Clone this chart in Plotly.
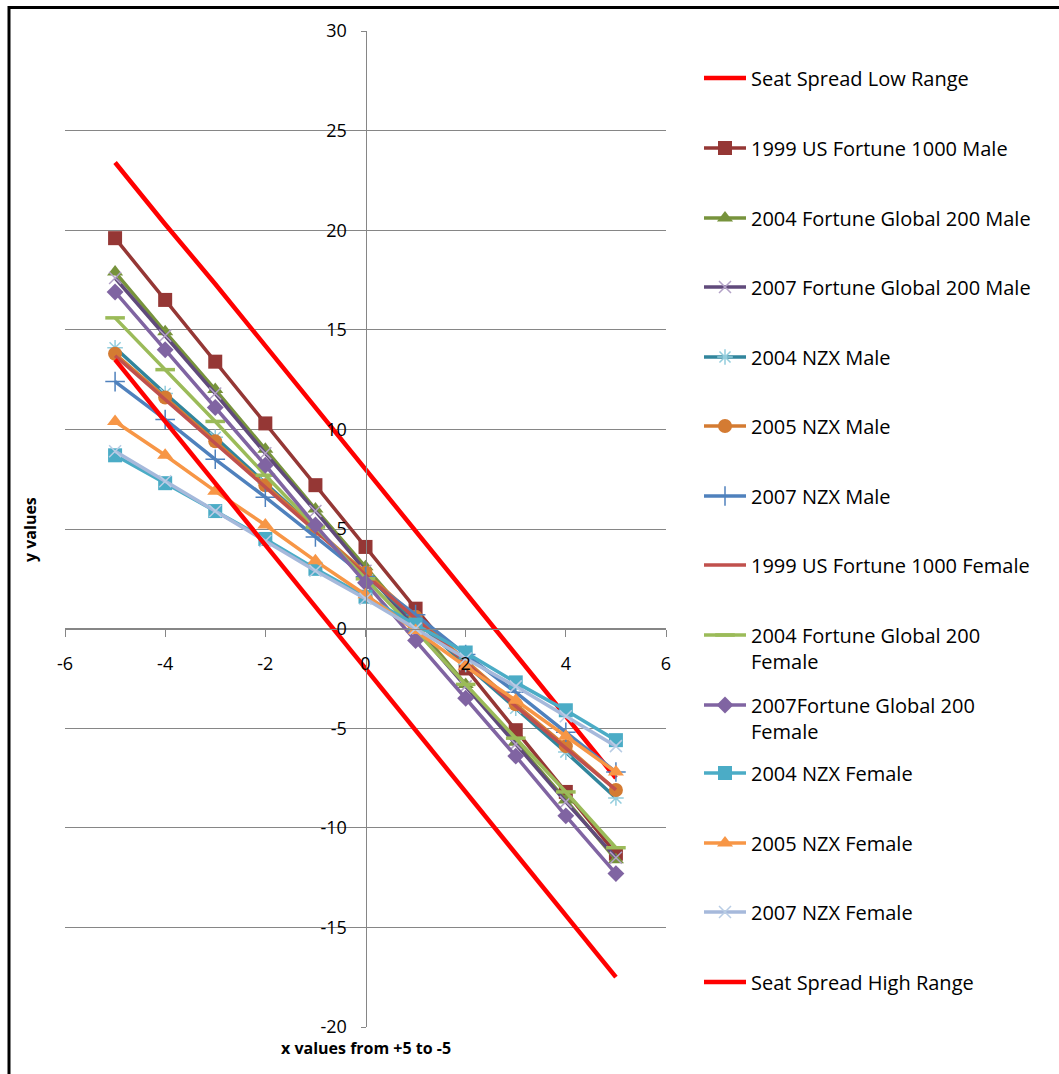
import plotly.graph_objects as go

x_vals = [-5, -4, -3, -2, -1, 0, 1, 2, 3, 4, 5]

seat_low = [23.4, 20.3, 17.3, 14.2, 11.1, 8.0, 4.9, 1.8, -1.3, -4.4, -7.5]
us1999_m = [19.6, 16.5, 13.4, 10.3, 7.2, 4.1, 1.0, -2.0, -5.1, -8.2, -11.3]
fg2004_m = [17.9, 14.9, 12.0, 9.0, 6.0, 3.1, 0.2, -2.8, -5.7, -8.6, -11.6]
fg2007_m = [17.6, 14.7, 11.8, 8.8, 5.9, 2.9, 0.0, -2.9, -5.8, -8.7, -11.5]
nzx2004_m = [14.1, 11.8, 9.6, 7.3, 5.0, 2.7, 0.4, -1.8, -4.0, -6.2, -8.5]
nzx2005_m = [13.8, 11.6, 9.4, 7.2, 5.0, 2.8, 0.6, -1.6, -3.8, -5.9, -8.1]
nzx2007_m = [12.4, 10.5, 8.5, 6.6, 4.6, 2.6, 0.7, -1.3, -3.2, -5.2, -7.2]
us1999_f = [13.7, 11.5, 9.3, 7.1, 4.9, 2.7, 0.5, -1.7, -3.9, -6.0, -8.1]
fg2004_f = [15.6, 13.0, 10.4, 7.7, 5.1, 2.5, -0.1, -2.8, -5.5, -8.2, -11.0]
fg2007_f = [16.9, 14.0, 11.1, 8.2, 5.2, 2.3, -0.6, -3.5, -6.4, -9.4, -12.3]
nzx2004_f = [8.7, 7.3, 5.9, 4.5, 3.0, 1.6, 0.2, -1.2, -2.7, -4.1, -5.6]
nzx2005_f = [10.4, 8.7, 6.9, 5.2, 3.4, 1.7, -0.1, -1.9, -3.6, -5.4, -7.2]
nzx2007_f = [8.9, 7.4, 5.9, 4.4, 2.9, 1.5, 0.0, -1.5, -2.9, -4.4, -5.9]
seat_high = [13.5, 10.4, 7.3, 4.2, 1.1, -2.0, -5.1, -8.2, -11.3, -14.4, -17.5]

x_tick_vals = [-6, -4, -2, 0, 2, 4, 6]
x_tick_text = ["-6", "-4", "-2", "0", "2", "4", "6"]
y_tick_vals = [-20, -15, -10, -5, 0, 5, 10, 15, 20, 25, 30]
y_tick_text = ["-20", "-15", "-10", "-5", "0", "5", "10", "15", "20", "25", "30"]

series_names = [
    "Seat Spread Low Range",
    "1999 US Fortune 1000 Male",
    "2004 Fortune Global 200 Male",
    "2007 Fortune Global 200 Male",
    "2004 NZX Male",
    "2005 NZX Male",
    "2007 NZX Male",
    "1999 US Fortune 1000 Female",
    "2004 Fortune Global 200<br>Female",
    "2007Fortune Global 200<br>Female",
    "2004 NZX Female",
    "2005 NZX Female",
    "2007 NZX Female",
    "Seat Spread High Range",
]
series_values = [seat_low, us1999_m, fg2004_m, fg2007_m, nzx2004_m, nzx2005_m,
                 nzx2007_m, us1999_f, fg2004_f, fg2007_f, nzx2004_f, nzx2005_f,
                 nzx2007_f, seat_high]

# style: (line color, line width, marker symbol, marker color, marker size, marker line width)
styles = [
    ("#FF0000", 4.5, None, None, 0, 0),
    ("#953735", 3.5, "square", "#953735", 14, 0),
    ("#77933C", 3.5, "triangle-up", "#77933C", 14, 0),
    ("#604A7B", 3.5, "x-thin", "#B3A2C7", 12, 1.5),
    ("#31859C", 3.5, "asterisk", "#93CDDD", 13, 1.5),
    ("#D47B32", 3.5, "circle", "#D47B32", 14, 0),
    ("#4F81BD", 3.5, "cross-thin", "#4F81BD", 14, 1.5),
    ("#C0504D", 3.5, None, None, 0, 0),
    ("#9BBB59", 3.5, "line-ew", "#9BBB59", 14, 3.5),
    ("#8064A2", 3.5, "diamond", "#8064A2", 13, 0),
    ("#4BACC6", 3.5, "square", "#4BACC6", 14, 0),
    ("#F79646", 3.5, "triangle-up", "#F79646", 14, 0),
    ("#A6B9DB", 3.5, "x-thin", "#B9CDE5", 12, 1.5),
    ("#FF0000", 4.5, None, None, 0, 0),
]

# legend item centres (px from top of page)
legend_centres = [78, 148, 218, 287, 357, 426, 496, 565, 648, 718, 773, 843, 912, 982]

W, H = 1059, 1074
L, T = 65, 31
PW, PH = 601, 996


def px_x(px):
    return (px - L) / PW


def px_y(py):
    return (T + PH - py) / PH


FONT = "Open Sans"

fig = go.Figure()
layout_legends = {}
for i, (name, vals, st) in enumerate(zip(series_names, series_values, styles)):
    lc, lw, sym, mc, ms, mlw = st
    leg_id = "legend" if i == 0 else f"legend{i + 1}"
    mode = "lines" if sym is None else "lines+markers"
    marker = None
    if sym is not None:
        marker = dict(symbol=sym, size=ms, color=mc,
                      line=dict(color=mc, width=mlw))
    fig.add_trace(go.Scatter(
        x=x_vals, y=vals, name=name, mode=mode,
        line=dict(color=lc, width=lw),
        marker=marker,
        legend=leg_id,
    ))
    layout_legends[leg_id] = dict(
        x=px_x(699), y=px_y(legend_centres[i]),
        xanchor="left", yanchor="middle", valign="top",
        bgcolor="rgba(0,0,0,0)", borderwidth=0,
        font=dict(family=FONT, size=20, color="#000000"),
        itemwidth=42, tracegroupgap=0,
    )

fig.update_layout(**layout_legends)

fig.update_layout(
    width=W, height=H,
    margin=dict(l=L, r=W - L - PW, t=T, b=H - T - PH, autoexpand=False),
    paper_bgcolor="white", plot_bgcolor="white",
    showlegend=True,
    font=dict(family=FONT, size=18, color="#000000"),
    xaxis=dict(
        range=[-6, 6], tickmode="array", tickvals=x_tick_vals, ticktext=x_tick_text,
        anchor="free", position=0.4,
        showgrid=False, zeroline=False, showline=True, linecolor="#868686",
        linewidth=1, ticks="outside", ticklen=7, tickcolor="#868686",
        ticklabelstandoff=12, tickfont=dict(family=FONT, size=18, color="#000000"),
        fixedrange=True,
    ),
    yaxis=dict(
        range=[-20, 30], tickmode="array", tickvals=y_tick_vals, ticktext=y_tick_text,
        anchor="free", position=0.5,
        showgrid=True, gridcolor="#868686", gridwidth=1, zeroline=False,
        showline=True, linecolor="#868686", linewidth=1, ticks="outside",
        ticklen=5, tickcolor="#868686", ticklabelstandoff=10,
        tickfont=dict(family=FONT, size=18, color="#000000"),
        fixedrange=True,
    ),
    annotations=[
        dict(text="<b>x values from +5 to -5</b>", xref="paper", yref="paper",
             x=px_x(366), y=px_y(1048), showarrow=False,
             font=dict(family=FONT, size=16, color="#000000"),
             xanchor="center", yanchor="middle"),
        dict(text="<b>y values</b>", xref="paper", yref="paper",
             x=px_x(30), y=px_y(530), showarrow=False, textangle=-90,
             font=dict(family=FONT, size=16, color="#000000"),
             xanchor="center", yanchor="middle"),
    ],
    shapes=[
        dict(type="line", xref="paper", yref="paper",
             x0=px_x(9), y0=px_y(7.5), x1=px_x(1070), y1=px_y(7.5),
             line=dict(color="#000000", width=3)),
        dict(type="line", xref="paper", yref="paper",
             x0=px_x(9), y0=px_y(6), x1=px_x(9), y1=px_y(1090),
             line=dict(color="#000000", width=3)),
    ],
)

fig.write_html("out.html")
